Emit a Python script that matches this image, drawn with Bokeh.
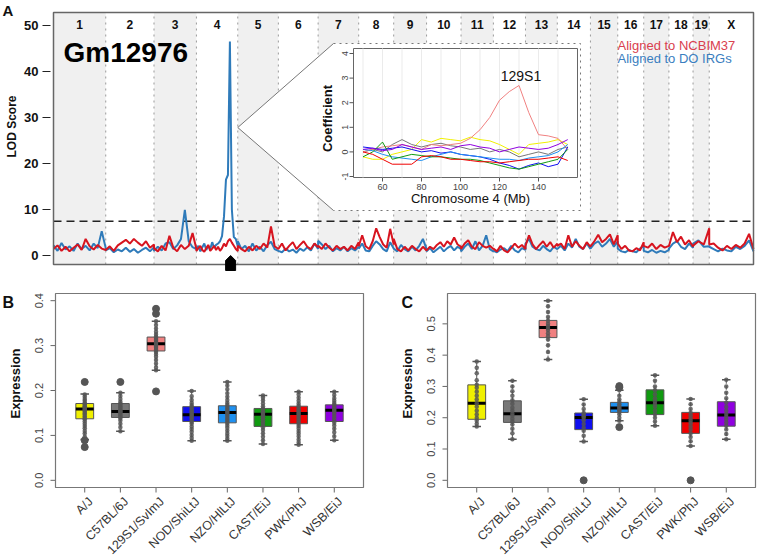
import numpy as np
from math import pi
from bokeh.plotting import figure
from bokeh.models import Range1d
from bokeh.layouts import column, row
from bokeh.embed import file_html
from bokeh.resources import INLINE
from bokeh.core.properties import value

FONT = "Liberation Sans"

# ---------------- data: panel A (genome scan) ----------------
chrom_names = ["1", "2", "3", "4", "5", "6", "7", "8", "9", "10",
               "11", "12", "13", "14", "15", "16", "17", "18", "19", "X"]
chrom_lengths = [197, 182, 160, 156, 153, 150, 153, 132, 124, 130,
                 122, 121, 120, 125, 103, 98, 95, 91, 61, 167]

# LOD scores along each chromosome (evenly spaced along chromosome)
lod_ncbim37 = [
    [1.4, 2.2, 1.0, 1.9, 0.9, 1.7, 2.4, 1.2, 3.6, 2.0, 1.3, 2.3, 1.5, 1.2],
    [1.2, 2.0, 1.0, 2.2, 2.8, 3.4, 2.6, 3.6, 2.8, 2.1, 3.1, 1.7, 2.4],
    [1.6, 0.9, 2.1, 1.1, 4.3, 1.7, 0.9, 2.3, 1.4, 2.1, 4.9, 1.4],
    [1.0, 1.6, 2.1, 1.2, 0.8, 1.6, 2.3, 1.0, 1.5, 2.1, 1.2, 1.9, 1.0, 1.6, 2.6, 2.0, 3.1, 3.6, 2.8, 2.1, 1.4, 1.0],
    [2.1, 1.4, 0.9, 1.9, 1.1, 2.1, 1.4, 2.6, 1.7, 6.3, 2.0, 1.4],
    [1.4, 2.6, 1.1, 2.1, 2.9, 1.4, 2.3, 3.1, 1.9, 1.4, 2.6, 1.8],
    [2.1, 1.4, 2.6, 1.7, 1.1, 2.1, 1.4, 1.9, 1.1, 2.1, 1.4, 2.9],
    [2.0, 4.4, 2.0, 1.4, 3.1, 5.9, 4.0, 2.4, 1.7, 5.8, 2.4],
    [3.6, 1.4, 0.9, 1.9, 1.1, 2.1, 1.4, 0.9, 1.9, 1.1],
    [1.1, 1.9, 1.4, 2.3, 2.9, 1.9, 3.1, 2.4, 3.9, 2.4, 1.9],
    [1.4, 2.6, 3.3, 1.9, 1.4, 2.9, 2.1, 1.7, 2.1, 1.4],
    [1.5, 0.9, 2.1, 1.1, 0.7, 1.6, 2.6, 1.7, 2.3, 1.4],
    [2.1, 4.4, 2.4, 1.4, 2.3, 3.1, 1.9, 2.9, 1.7, 2.6],
    [2.1, 2.6, 1.4, 4.4, 1.9, 3.1, 2.1, 1.4, 2.9, 1.9],
    [2.0, 3.1, 4.5, 2.9, 3.6, 4.6, 2.4, 4.4],
    [2.6, 1.4, 2.1, 1.1, 0.9, 1.6, 1.1, 2.9],
    [2.1, 1.7, 2.6, 1.4, 2.3, 1.7, 2.1],
    [2.0, 5.1, 2.9, 4.1, 2.4, 3.3, 1.9],
    [2.1, 3.1, 2.4, 5.9],
    [2.4, 2.6, 1.7, 1.1, 2.1, 1.4, 2.3, 1.7, 2.6, 4.7, 1.4],
]
lod_do_irgs = [
    [2.2, 1.0, 2.7, 1.3, 2.0, 1.0, 2.6, 1.4, 2.1, 1.1, 2.6, 1.6, 5.3, 1.6],
    [1.1, 1.6, 0.7, 1.3, 0.9, 1.7, 0.8, 1.4, 0.6, 1.2, 1.7, 0.9, 1.8],
    [1.0, 1.9, 1.1, 2.6, 2.9, 1.4, 2.2, 3.6, 9.9, 3.1, 1.8, 1.4],
    [1.6, 2.1, 0.9, 1.8, 2.6, 1.2, 2.1, 1.4, 2.9, 1.7, 2.3, 2.6, 3.1, 4.2, 8.5, 16.5, 17.5, 46.5, 10.0, 4.0, 3.6, 2.0],
    [3.1, 1.4, 2.1, 0.9, 2.6, 1.1, 1.9, 0.9, 2.3, 3.0, 1.4, 1.0],
    [1.0, 0.7, 1.5, 0.9, 1.3, 0.6, 1.5, 1.0, 1.8, 1.1, 2.6, 1.4],
    [3.2, 2.4, 1.4, 2.1, 0.9, 1.6, 1.1, 1.9, 0.9, 1.6, 1.1, 1.9],
    [1.5, 2.6, 1.1, 0.9, 2.1, 3.1, 2.4, 1.4, 0.9, 2.9, 1.5],
    [1.5, 0.9, 2.3, 1.4, 0.9, 1.9, 1.1, 2.1, 3.6, 1.4],
    [0.9, 1.6, 0.7, 1.3, 1.9, 0.9, 1.6, 2.1, 1.1, 1.9, 1.4],
    [0.9, 1.9, 2.6, 1.4, 3.1, 1.1, 2.1, 4.4, 1.4, 0.9],
    [1.0, 0.7, 1.3, 1.6, 0.9, 2.1, 1.1, 0.7, 1.6, 1.2],
    [2.6, 3.6, 1.9, 1.4, 1.1, 2.1, 1.4, 0.9, 1.9, 1.4],
    [1.4, 2.1, 1.1, 2.6, 1.7, 3.6, 1.9, 1.4, 2.6, 1.4],
    [1.5, 2.6, 3.1, 1.9, 2.6, 3.6, 1.9, 3.1],
    [1.5, 0.9, 0.7, 1.2, 0.9, 0.7, 1.5, 2.1],
    [1.0, 0.7, 1.2, 0.6, 1.0, 0.7, 1.2],
    [1.5, 2.6, 3.1, 1.9, 1.4, 2.6, 1.7],
    [2.6, 3.3, 1.9, 2.0],
    [1.9, 1.4, 0.9, 1.5, 1.1, 0.9, 1.9, 1.4, 2.1, 3.3, 0.9],
]
lod_threshold = 7.46
lod_ticks = [0, 10, 20, 30, 40, 50]
gene_name = "Gm12976"
gene_chrom = "4"
gene_pos_mb = 129

# inset: founder coefficients on chromosome 4
inset_mb = [50, 55, 60, 65, 70, 75, 80, 85, 90, 95, 100, 105, 110, 115, 120,
            125, 130, 135, 140, 145, 150, 155]
coef_AJ = [-0.2, -0.3, -0.3, -0.1, 0.0, 0.1, 0.5, 0.4, 0.55, 0.5, 0.45, 0.6, 0.5, 0.45, 0.3, 0.1, -0.1, 0.3, 0.35, 0.4, 0.5, 0.3]
coef_B6 = [0.0, 0.1, 0.0, 0.3, 0.5, 0.3, 0.2, 0.3, 0.35, 0.25, 0.2, 0.1, 0.15, 0.0, 0.1, 0.0, -0.2, -0.1, 0.0, -0.1, 0.1, 0.2]
coef_129 = [0.0, 0.1, 0.2, 0.25, 0.3, 0.2, 0.1, 0.3, 0.25, 0.3, 0.35, 0.55, 0.9, 1.4, 2.1, 2.45, 2.7, 1.6, 0.7, 0.65, 0.55, 0.1]
coef_NOD = [0.2, 0.15, 0.1, 0.15, 0.2, 0.1, 0.0, 0.05, -0.05, 0.0, -0.1, -0.15, -0.2, -0.3, -0.45, -0.55, -0.7, -0.55, -0.45, -0.6, -0.5, 0.2]
coef_NZO = [0.1, 0.05, -0.1, -0.2, -0.25, -0.3, -0.35, -0.2, -0.1, 0.0, -0.1, -0.15, -0.2, -0.25, -0.3, -0.3, -0.35, -0.25, -0.2, -0.15, 0.0, 0.3]
coef_CAST = [-0.2, 0.0, 0.4, -0.3, -0.2, -0.1, -0.15, -0.2, -0.2, -0.25, -0.3, -0.3, -0.35, -0.45, -0.55, -0.65, -0.7, -0.6, -0.5, -0.4, -0.3, 0.1]
coef_PWK = [0.0, -0.1, -0.3, -0.5, -0.5, -0.5, -0.2, -0.15, -0.2, -0.3, -0.3, -0.35, -0.4, -0.4, -0.45, -0.4, -0.35, -0.3, -0.3, -0.25, -0.2, -0.35]
coef_WSB = [0.1, 0.15, 0.05, 0.1, 0.3, 0.2, 0.1, 0.15, 0.2, 0.1, 0.25, 0.3, 0.2, 0.15, 0.0, 0.1, 0.2, 0.15, 0.1, 0.15, 0.3, 0.5]
inset_xticks = [60, 80, 100, 120, 140]
inset_yticks = [-1, 0, 1, 2, 3, 4]
inset_label_pos = (131, 3.1)

# ---------------- data: panels B and C ----------------
strains = ["A/J", "C57BL/6J", "129S1/SvImJ", "NOD/ShiLtJ", "NZO/HlLtJ", "CAST/EiJ", "PWK/PhJ", "WSB/EiJ"]
strain_colors = ["#F0F000", "#777777", "#F08080", "#1010F0", "#1E90F0", "#109A10", "#F00000", "#9000E0"]

b_q1 = [0.137, 0.140, 0.288, 0.131, 0.128, 0.120, 0.126, 0.131]
b_med = [0.159, 0.153, 0.304, 0.146, 0.151, 0.147, 0.149, 0.156]
b_q3 = [0.171, 0.171, 0.319, 0.164, 0.166, 0.160, 0.165, 0.168]
b_lo = [0.091, 0.109, 0.245, 0.088, 0.088, 0.081, 0.079, 0.089]
b_hi = [0.192, 0.195, 0.354, 0.199, 0.219, 0.189, 0.197, 0.197]
b_outliers = [[0.219, 0.074, 0.089], [0.219], [0.382, 0.371, 0.198], [], [], [], [], []]
b_points = [
    [0.092, 0.097, 0.104, 0.110, 0.116, 0.121, 0.126, 0.131, 0.136, 0.139, 0.142, 0.146, 0.149, 0.152, 0.155, 0.157, 0.159, 0.161, 0.163, 0.165, 0.168, 0.170, 0.173, 0.177, 0.181, 0.186, 0.191],
    [0.109, 0.118, 0.126, 0.133, 0.138, 0.141, 0.144, 0.147, 0.150, 0.152, 0.154, 0.156, 0.159, 0.162, 0.165, 0.168, 0.171, 0.175, 0.181, 0.188, 0.195],
    [0.245, 0.252, 0.260, 0.268, 0.275, 0.281, 0.286, 0.289, 0.292, 0.295, 0.298, 0.301, 0.303, 0.305, 0.308, 0.311, 0.314, 0.317, 0.320, 0.325, 0.331, 0.338, 0.346, 0.354],
    [0.088, 0.094, 0.101, 0.108, 0.114, 0.120, 0.126, 0.130, 0.134, 0.138, 0.141, 0.144, 0.147, 0.150, 0.153, 0.156, 0.160, 0.163, 0.167, 0.172, 0.179, 0.187, 0.199],
    [0.088, 0.093, 0.099, 0.105, 0.111, 0.117, 0.122, 0.127, 0.131, 0.135, 0.139, 0.143, 0.147, 0.150, 0.153, 0.156, 0.160, 0.164, 0.168, 0.173, 0.179, 0.186, 0.194, 0.203, 0.211, 0.219],
    [0.081, 0.089, 0.097, 0.105, 0.112, 0.118, 0.123, 0.128, 0.133, 0.138, 0.142, 0.145, 0.148, 0.151, 0.154, 0.157, 0.160, 0.165, 0.171, 0.178, 0.184, 0.189],
    [0.079, 0.085, 0.091, 0.098, 0.104, 0.110, 0.116, 0.121, 0.126, 0.130, 0.134, 0.138, 0.142, 0.146, 0.149, 0.152, 0.155, 0.158, 0.162, 0.166, 0.171, 0.177, 0.184, 0.191, 0.197],
    [0.089, 0.098, 0.107, 0.115, 0.122, 0.128, 0.133, 0.138, 0.143, 0.148, 0.152, 0.155, 0.158, 0.161, 0.164, 0.168, 0.172, 0.177, 0.183, 0.190, 0.197],
]
b_yticks = [0.0, 0.1, 0.2, 0.3, 0.4]

c_q1 = [0.195, 0.185, 0.456, 0.162, 0.217, 0.210, 0.150, 0.173]
c_med = [0.246, 0.213, 0.488, 0.201, 0.231, 0.248, 0.190, 0.209]
c_q3 = [0.305, 0.254, 0.511, 0.215, 0.249, 0.289, 0.217, 0.251]
c_lo = [0.172, 0.131, 0.386, 0.124, 0.190, 0.174, 0.110, 0.131]
c_hi = [0.380, 0.318, 0.574, 0.259, 0.288, 0.336, 0.260, 0.321]
c_outliers = [[], [], [], [0.0], [0.170, 0.297, 0.301], [], [0.0], []]
c_points = [
    [0.172, 0.181, 0.190, 0.199, 0.210, 0.222, 0.235, 0.246, 0.258, 0.270, 0.283, 0.296, 0.305, 0.320, 0.342, 0.360, 0.380],
    [0.131, 0.150, 0.165, 0.178, 0.188, 0.197, 0.206, 0.213, 0.222, 0.232, 0.245, 0.256, 0.270, 0.285, 0.300, 0.318],
    [0.386, 0.410, 0.432, 0.450, 0.460, 0.470, 0.480, 0.487, 0.493, 0.500, 0.510, 0.522, 0.538, 0.556, 0.574],
    [0.124, 0.142, 0.158, 0.168, 0.180, 0.192, 0.200, 0.205, 0.210, 0.215, 0.228, 0.242, 0.259],
    [0.190, 0.200, 0.210, 0.218, 0.223, 0.228, 0.232, 0.237, 0.243, 0.250, 0.258, 0.270, 0.288],
    [0.174, 0.188, 0.200, 0.211, 0.222, 0.235, 0.244, 0.252, 0.262, 0.275, 0.288, 0.300, 0.318, 0.336],
    [0.110, 0.125, 0.138, 0.150, 0.162, 0.172, 0.182, 0.190, 0.198, 0.207, 0.216, 0.228, 0.243, 0.260],
    [0.131, 0.148, 0.162, 0.174, 0.185, 0.195, 0.204, 0.212, 0.222, 0.234, 0.248, 0.262, 0.280, 0.300, 0.321],
]
c_yticks = [0.0, 0.1, 0.2, 0.3, 0.4, 0.5]


# ---------------- helpers ----------------
def lin(v0, p0, v1, p1):
    """linear map pixel -> data value"""
    k = (v1 - v0) / (p1 - p0)
    return lambda p: v0 + (p - p0) * k


def canvas_fig(w, h, X, Y):
    p = figure(width=w, height=h, x_range=Range1d(X(0), X(w)), y_range=Range1d(Y(h), Y(0)),
               x_axis_location=None, y_axis_location=None, output_backend="svg",
               toolbar_location=None, min_border=0)
    p.min_border_left = p.min_border_right = p.min_border_top = p.min_border_bottom = 0
    p.grid.visible = False
    p.outline_line_color = None
    return p


def txt(p, x, y, s, size, bold=False, color="#111111", align="center", baseline="middle",
        angle=0.0, **kw):
    xs = x if isinstance(x, (list, tuple)) else [x]
    ys = y if isinstance(y, (list, tuple)) else [y]
    ss = s if isinstance(s, (list, tuple)) else [s]
    n = max(len(xs), len(ys), len(ss))
    xs = xs * n if len(xs) == 1 else xs
    ys = ys * n if len(ys) == 1 else ys
    p.text(x=list(xs), y=list(ys), text=list(ss), angle=angle, text_font=value(FONT),
           text_font_style="bold" if bold else "normal", text_font_size=size,
           text_color=color, text_align=align, text_baseline=baseline, **kw)


# ---------------- panel A ----------------
offsets = np.concatenate([[0], np.cumsum(chrom_lengths)[:-1]])
ends = offsets + np.array(chrom_lengths)
total = float(sum(chrom_lengths))

def genome_xy(series):
    xs, ys = [], []
    for off, L, vals in zip(offsets, chrom_lengths, series):
        xs.extend(list(off + np.linspace(0, L, len(vals))))
        ys.extend(vals)
    return xs, ys

AW, AH = 757, 280
XA = lin(0, 53, total, 753)          # genome Mb
YA = lin(0, 255, 10, 209)            # LOD
pA = canvas_fig(AW, AH, XA, YA)

box_top, box_bot = YA(12), YA(264)
# y axis
pA.segment(x0=XA(42), y0=lod_ticks, x1=XA(50), y1=lod_ticks, line_color="#222222", line_width=1)
txt(pA, XA(38), lod_ticks, [str(t) for t in lod_ticks], "13px", bold=True, align="right")
txt(pA, XA(11), YA(126), "LOD Score", "12px", bold=True, angle=pi / 2)
txt(pA, XA(2), YA(1), "A", "15px", bold=True, align="left", baseline="top")

shade_idx = list(range(0, len(chrom_names), 2))
pA.quad(left=[offsets[i] for i in shade_idx], right=[ends[i] for i in shade_idx],
        bottom=box_bot, top=box_top, fill_color="#F0F0F0", line_color=None)
pA.segment(x0=list(ends[:-1]), y0=box_bot, x1=list(ends[:-1]), y1=box_top,
           line_color="#9A9A9A", line_dash="dotted", line_width=1)
mids = list((offsets + ends) / 2)
txt(pA, mids, YA(24), chrom_names, "12px", bold=True)

pA.segment(x0=[0], y0=[lod_threshold], x1=[total], y1=[lod_threshold], line_color="#222222",
           line_dash="8 5", line_width=1.5)

bx, by = genome_xy(lod_do_irgs)
rx, ry = genome_xy(lod_ncbim37)
pA.line(bx, by, line_color="#2F7BBA", line_width=2)
pA.line(rx, ry, line_color="#D7141F", line_width=2)

pA.quad(left=0, right=total, bottom=box_bot, top=box_top, fill_color=None,
        line_color="#666666", line_width=1.5)

# inset callout
chr4_end = ends[chrom_names.index("4")]
apex_y = YA(127)
ox0, ox1 = XA(333), XA(580)
oy0, oy1 = YA(210), YA(43)
pA.patch([chr4_end, ox0, ox1, ox1, ox0], [apex_y, oy1, oy1, oy0, oy0],
         fill_color="white", line_color=None)
pA.segment(x0=[chr4_end, chr4_end], y0=[apex_y, apex_y], x1=[ox0, ox0], y1=[oy1, oy0],
           line_color="#777777", line_width=1)
pA.multi_line(xs=[[ox0, ox1, ox1, ox0]], ys=[[oy1, oy1, oy0, oy0]],
              line_color="#777777", line_dash="dotted", line_width=1)

IXf = lin(60, 382, 140, 538)
IYf = lin(-1, 176, 4, 53)
pA.extra_x_ranges = {"ix": Range1d(IXf(0), IXf(AW))}
pA.extra_y_ranges = {"iy": Range1d(IYf(AH), IYf(0))}
kw = dict(x_range_name="ix", y_range_name="iy")
il, ir, ib, it = IXf(353), IXf(577), IYf(177), IYf(48)
pA.quad(left=il, right=ir, bottom=ib, top=it, fill_color="white",
        line_color="#666666", line_width=1, **kw)
grid_x = list(range(50, 160, 10))
pA.segment(x0=grid_x, y0=ib, x1=grid_x, y1=it, line_color="#EBEBEB", line_width=1, **kw)
coef_series = [coef_AJ, coef_B6, coef_129, coef_NOD, coef_NZO, coef_CAST, coef_PWK, coef_WSB]
for ser, col in zip(coef_series, strain_colors):
    pA.line(inset_mb, ser, line_color=col, line_width=1, **kw)
pA.segment(x0=il, y0=inset_yticks, x1=IXf(349), y1=inset_yticks, line_color="#555555", **kw)
txt(pA, IXf(347), inset_yticks, [str(t) for t in inset_yticks], "9px", color="#444444",
    baseline="bottom", angle=pi / 2, **kw)
pA.segment(x0=inset_xticks, y0=ib, x1=inset_xticks, y1=IYf(181), line_color="#555555", **kw)
txt(pA, inset_xticks, IYf(183), [str(t) for t in inset_xticks], "9px", color="#444444",
    baseline="top", **kw)
txt(pA, IXf(470), IYf(198), "Chromosome 4 (Mb)", "13px", **kw)
txt(pA, IXf(327), IYf(118), "Coefficient", "13px", bold=True, angle=pi / 2, **kw)
txt(pA, inset_label_pos[0], inset_label_pos[1], "129S1", "14px", **kw)

# gene name, legend, marker
txt(pA, XA(63), YA(52), gene_name, "28px", bold=True, color="#000000", align="left")
txt(pA, XA(617), [YA(45), YA(58)], ["Aligned to NCBIM37", "Aligned to DO IRGs"], "13px",
    color=["#D9404E", "#3A7EC0"], align="left")
gx = offsets[chrom_names.index(gene_chrom)] + gene_pos_mb
hw = XA(58) - XA(53)
pA.patch([gx - hw, gx + hw, gx + hw, gx, gx - hw], [YA(270), YA(270), YA(260), YA(255), YA(260)],
         fill_color="black", line_color="black")


# ---------------- panels B and C ----------------
def box_panel(w, box_l, ymax_val, ymin_val, yticks, q1, med, q3, lo, hi, pts, outl, letter):
    h = 278
    box_r = box_l + 308
    X = lin(0.18, box_l, 8.82, box_r)
    Y = lin(ymin_val, 207, ymax_val, 13)
    p = canvas_fig(w, h, X, Y)
    xs = list(range(1, len(strains) + 1))
    # axes
    p.segment(x0=X(box_l), y0=yticks, x1=X(box_l - 5), y1=yticks, line_color="#666666")
    txt(p, X(box_l - 13), yticks, ["%.1f" % t for t in yticks], "11px", color="#444444",
        baseline="bottom", angle=pi / 2)
    txt(p, X(box_l - 40), Y(103), "Expression", "13px", bold=True, angle=pi / 2)
    p.segment(x0=xs, y0=Y(207), x1=xs, y1=Y(212), line_color="#666666")
    txt(p, [x + (X(6) - X(0)) for x in xs], Y(219), strains, "12.5px", color="#333333",
        align="right", angle=pi / 4)
    txt(p, X(2 if letter == "B" else 1), Y(13), letter, "16px", bold=True, align="left",
        baseline="top")
    # boxes
    p.segment(x0=xs, y0=q3, x1=xs, y1=hi, line_color="#555555", line_dash="4 2", line_width=1)
    p.segment(x0=xs, y0=q1, x1=xs, y1=lo, line_color="#555555", line_dash="4 2", line_width=1)
    p.segment(x0=[x - 0.12 for x in xs], y0=hi, x1=[x + 0.12 for x in xs], y1=hi,
              line_color="#555555", line_width=1.5)
    p.segment(x0=[x - 0.12 for x in xs], y0=lo, x1=[x + 0.12 for x in xs], y1=lo,
              line_color="#555555", line_width=1.5)
    p.vbar(x=xs, width=0.5, bottom=q1, top=q3, fill_color=strain_colors, line_color="#555555",
           line_width=1)
    p.segment(x0=[x - 0.25 for x in xs], y0=med, x1=[x + 0.25 for x in xs], y1=med,
              line_color="black", line_width=3)
    px_, py_ = [], []
    for x, vals in zip(xs, pts):
        px_.extend([x] * len(vals))
        py_.extend(vals)
    p.scatter(px_, py_, size=4.5, fill_color="#555555", line_color=None, fill_alpha=0.85)
    ox_, oy_ = [], []
    for x, vals in zip(xs, outl):
        ox_.extend([x] * len(vals))
        oy_.extend(vals)
    p.scatter(ox_, oy_, size=7, fill_color="#555555", line_color="#555555")
    # frame
    p.quad(left=X(box_l), right=X(box_r), bottom=Y(207), top=Y(13), fill_color=None,
           line_color="#777777", line_width=1.2)
    return p

pB = box_panel(400, 55, 0.416, -0.016, b_yticks, b_q1, b_med, b_q3, b_lo, b_hi,
               b_points, b_outliers, "B")
pC = box_panel(357, 47, 0.597, -0.023, c_yticks, c_q1, c_med, c_q3, c_lo, c_hi,
               c_points, c_outliers, "C")

layout = column(pA, row(pB, pC))
open("out.html", "w").write(file_html(layout, INLINE))
